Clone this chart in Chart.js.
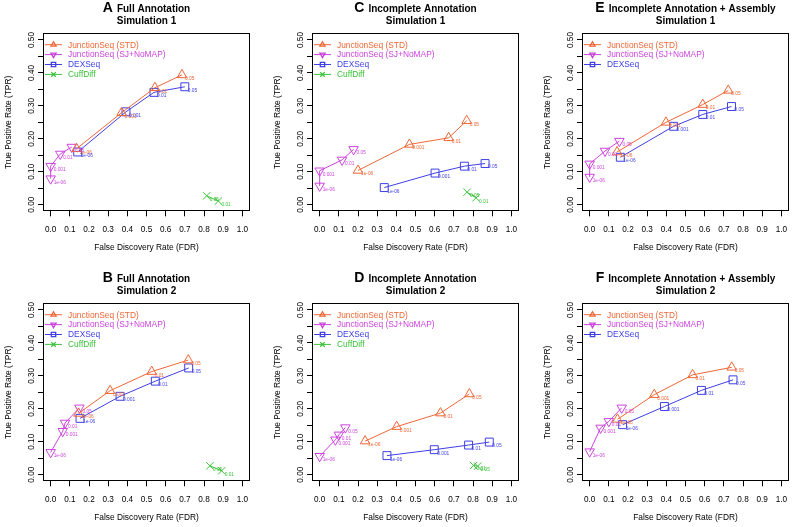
<!DOCTYPE html>
<html><head><meta charset="utf-8">
<script src="https://cdn.jsdelivr.net/npm/chart.js@4/dist/chart.umd.min.js"></script>
<style>
html,body{margin:0;padding:0;background:#fff;overflow:hidden;width:796px;height:527px}
canvas{position:absolute}
</style></head><body>
<canvas id="cA" width="257" height="257" style="left:0px;top:0px"></canvas>
<canvas id="cC" width="257" height="257" style="left:269px;top:0px"></canvas>
<canvas id="cE" width="257" height="257" style="left:539px;top:0px"></canvas>
<canvas id="cB" width="257" height="257" style="left:0px;top:270px"></canvas>
<canvas id="cD" width="257" height="257" style="left:269px;top:270px"></canvas>
<canvas id="cF" width="257" height="257" style="left:539px;top:270px"></canvas>
<script>
// ---- axis ticks / labels ----
const xTicks = [0, 0.1, 0.2, 0.3, 0.4, 0.5, 0.6, 0.7, 0.8, 0.9, 1.0];
const xTickLabels = ['0.0','0.1','0.2','0.3','0.4','0.5','0.6','0.7','0.8','0.9','1.0'];
const yTicks = [0, 0.05, 0.1, 0.15, 0.2, 0.25, 0.3, 0.35, 0.4, 0.45, 0.5];
const yTickLabels = ['0.00','','0.10','','0.20','','0.30','','0.40','','0.50'];
const xTitle = 'False Discovery Rate (FDR)';
const yTitle = 'True Positive Rate (TPR)';

// ---- series names / point labels ----
const seriesNames = ['JunctionSeq (STD)', 'JunctionSeq (SJ+NoMAP)', 'DEXSeq', 'CuffDiff'];
const thresholdLabels = ['1e-06', '0.001', '0.01', '0.05'];

// ---- panel titles ----
const panelLetters = ['A', 'B', 'C', 'D', 'E', 'F'];
const panelTitles = ['Full Annotation', 'Full Annotation', 'Incomplete Annotation', 'Incomplete Annotation',
                     'Incomplete Annotation + Assembly', 'Incomplete Annotation + Assembly'];
const panelSubtitles = ['Simulation 1', 'Simulation 2', 'Simulation 1', 'Simulation 2', 'Simulation 1', 'Simulation 2'];

// ---- Panel A ----
const A_STD_FDR = [0.135, 0.370, 0.544, 0.685];
const A_STD_TPR = [0.170, 0.279, 0.355, 0.394];
const A_SJ_FDR  = [0.000, 0.000, 0.050, 0.110];
const A_SJ_TPR  = [0.079, 0.117, 0.154, 0.175];
const A_DEX_FDR = [0.141, 0.393, 0.539, 0.700];
const A_DEX_TPR = [0.160, 0.282, 0.341, 0.358];
const A_CUFF_FDR = [0.814, 0.875];
const A_CUFF_TPR = [0.027, 0.011];
const A_CUFF_LAB = ['0.05', '0.01'];
// ---- Panel B ----
const B_STD_FDR = [0.145, 0.310, 0.527, 0.718];
const B_STD_TPR = [0.186, 0.255, 0.313, 0.348];
const B_SJ_FDR  = [0.000, 0.063, 0.075, 0.150];
const B_SJ_TPR  = [0.068, 0.132, 0.157, 0.203];
const B_DEX_FDR = [0.153, 0.362, 0.546, 0.720];
const B_DEX_TPR = [0.171, 0.238, 0.284, 0.324];
const B_CUFF_FDR = [0.831, 0.892];
const B_CUFF_TPR = [0.027, 0.012];
const B_CUFF_LAB = ['0.05', '0.01'];
// ---- Panel C ----
const C_STD_FDR = [0.200, 0.468, 0.673, 0.767];
const C_STD_TPR = [0.104, 0.183, 0.203, 0.255];
const C_SJ_FDR  = [0.000, 0.000, 0.117, 0.177];
const C_SJ_TPR  = [0.057, 0.103, 0.136, 0.168];
const C_DEX_FDR = [0.337, 0.602, 0.755, 0.863];
const C_DEX_TPR = [0.052, 0.096, 0.117, 0.125];
const C_CUFF_FDR = [0.769, 0.816];
const C_CUFF_TPR = [0.038, 0.021];
const C_CUFF_LAB = ['0.05', '0.01'];
// ---- Panel D ----
const D_STD_FDR = [0.237, 0.402, 0.630, 0.781];
const D_STD_TPR = [0.102, 0.146, 0.187, 0.245];
const D_SJ_FDR  = [0.000, 0.082, 0.100, 0.134];
const D_SJ_TPR  = [0.056, 0.106, 0.121, 0.143];
const D_DEX_FDR = [0.351, 0.598, 0.777, 0.885];
const D_DEX_TPR = [0.058, 0.076, 0.090, 0.099];
const D_CUFF_FDR = [0.803, 0.824];
const D_CUFF_TPR = [0.028, 0.026];
const D_CUFF_LAB = ['0.01', '0.05'];
// ---- Panel E ----
const E_STD_FDR = [0.143, 0.398, 0.590, 0.723];
const E_STD_TPR = [0.160, 0.250, 0.304, 0.347];
const E_SJ_FDR  = [0.000, 0.000, 0.080, 0.155];
const E_SJ_TPR  = [0.084, 0.124, 0.163, 0.193];
const E_DEX_FDR = [0.160, 0.438, 0.590, 0.740];
const E_DEX_TPR = [0.144, 0.238, 0.274, 0.298];
// ---- Panel F ----
const F_STD_FDR = [0.145, 0.337, 0.537, 0.741];
const F_STD_TPR = [0.168, 0.243, 0.303, 0.326];
const F_SJ_FDR  = [0.000, 0.057, 0.100, 0.167];
const F_SJ_TPR  = [0.070, 0.142, 0.162, 0.203];
const F_DEX_FDR = [0.172, 0.390, 0.583, 0.748];
const F_DEX_TPR = [0.152, 0.207, 0.256, 0.288];

// ---- styling ----
const COL_STD = '#EE6636';
const COL_SJ = '#CC44DD';
const COL_DEX = '#3F3FE6';
const COL_CUFF = '#3CC23C';
const FONT = '"Liberation Sans", Arial, Helvetica, sans-serif';

function mk(name, fdr, tpr, labels, color, style, rot, r) {
  return {
    label: name,
    data: fdr.map((x, i) => ({x: x, y: tpr[i]})),
    ptLabels: labels,
    showLine: true,
    borderColor: color,
    backgroundColor: 'rgba(0,0,0,0)',
    borderWidth: 1,
    tension: 0,
    fill: false,
    pointStyle: style,
    pointRotation: rot,
    pointRadius: r,
    pointBorderWidth: 1,
    pointBorderColor: color,
    pointBackgroundColor: 'rgba(0,0,0,0)',
    mkStyle: style, mkRot: rot
  };
}

function drawLegendMarker(ctx, style, rot, x, y, color) {
  ctx.save();
  ctx.strokeStyle = color; ctx.lineWidth = 1.3;
  ctx.beginPath();
  const r = 3;
  if (style === 'triangle') {
    const s = rot ? -1 : 1;
    ctx.moveTo(x, y - s * r);
    ctx.lineTo(x + r * 0.866, y + s * r * 0.5);
    ctx.lineTo(x - r * 0.866, y + s * r * 0.5);
    ctx.closePath();
  } else if (style === 'rect') {
    ctx.rect(x - 2.2, y - 2.2, 4.4, 4.4);
  } else {
    ctx.moveTo(x - 2.3, y - 2.3); ctx.lineTo(x + 2.3, y + 2.3);
    ctx.moveTo(x + 2.3, y - 2.3); ctx.lineTo(x - 2.3, y + 2.3);
  }
  ctx.stroke();
  ctx.restore();
}

function decoPlugin(idx) {
  return {
    id: 'rdeco',
    afterDatasetsDraw(chart) {
      const ctx = chart.ctx;
      ctx.save();
      ctx.font = '4.8px ' + FONT;
      ctx.textAlign = 'left';
      ctx.textBaseline = 'middle';
      chart.data.datasets.forEach((ds, di) => {
        const meta = chart.getDatasetMeta(di);
        ctx.fillStyle = ds.borderColor;
        meta.data.forEach((el, i) => {
          ctx.fillText(ds.ptLabels[i], el.x + 3, el.y + 3.6);
        });
      });
      ctx.restore();
    },
    afterDraw(chart) {
      const ctx = chart.ctx, a = chart.chartArea, xs = chart.scales.x, ys = chart.scales.y;
      ctx.save();
      // plot box
      ctx.strokeStyle = '#000'; ctx.lineWidth = 1;
      const L = Math.round(a.left) + 0.5, T = Math.round(a.top) + 0.5;
      const R = Math.round(a.right) - 0.5, B = Math.round(a.bottom) - 0.5;
      ctx.strokeRect(L, T, R - L, B - T);
      // x tick labels
      ctx.fillStyle = '#000';
      ctx.font = '8.2px ' + FONT;
      ctx.textAlign = 'center'; ctx.textBaseline = 'middle';
      xTicks.forEach((v, i) => ctx.fillText(xTickLabels[i], xs.getPixelForValue(v), a.bottom + 18.2));
      // y tick labels (rotated)
      yTicks.forEach((v, i) => {
        if (!yTickLabels[i]) return;
        ctx.save();
        ctx.translate(a.left - 11.3, ys.getPixelForValue(v));
        ctx.rotate(-Math.PI / 2);
        ctx.fillText(yTickLabels[i], 0, 0);
        ctx.restore();
      });
      // axis titles
      ctx.font = '8.4px ' + FONT;
      ctx.fillText(xTitle, (a.left + a.right) / 2, a.bottom + 36.2);
      ctx.save();
      ctx.translate(8.5, (a.top + a.bottom) / 2);
      ctx.rotate(-Math.PI / 2);
      ctx.fillText(yTitle, 0, 0);
      ctx.restore();
      // title
      const cx = (a.left + a.right) / 2;
      ctx.textBaseline = 'alphabetic';
      ctx.font = 'bold 14px ' + FONT;
      const wL = ctx.measureText(panelLetters[idx]).width;
      ctx.font = 'bold 10px ' + FONT;
      const wT = ctx.measureText(panelTitles[idx]).width;
      const gap = 4;
      const x0 = cx - (wL + gap + wT) / 2;
      ctx.textAlign = 'left';
      ctx.font = 'bold 14px ' + FONT;
      ctx.fillText(panelLetters[idx], x0, 12);
      ctx.font = 'bold 10px ' + FONT;
      ctx.fillText(panelTitles[idx], x0 + wL + gap, 12);
      ctx.textAlign = 'center';
      ctx.fillText(panelSubtitles[idx], cx, 24.2);
      // legend
      ctx.font = '8.4px ' + FONT;
      ctx.textAlign = 'left'; ctx.textBaseline = 'middle';
      chart.data.datasets.forEach((ds, i) => {
        const y = a.top + 11.3 + 9.9 * i;
        ctx.strokeStyle = ds.borderColor; ctx.lineWidth = 1;
        ctx.beginPath();
        ctx.moveTo(a.left + 2, y); ctx.lineTo(a.left + 19, y);
        ctx.stroke();
        drawLegendMarker(ctx, ds.mkStyle, ds.mkRot, a.left + 10.5, y, ds.borderColor);
        ctx.fillStyle = ds.borderColor;
        ctx.fillText(ds.label, a.left + 25, y + 0.5);
      });
      ctx.restore();
    }
  };
}

function makeChart(id, idx, datasets) {
  new Chart(document.getElementById(id), {
    type: 'scatter',
    data: {datasets: datasets},
    options: {
      responsive: false,
      maintainAspectRatio: false,
      animation: false,
      devicePixelRatio: 1,
      events: [],
      layout: {padding: {top: 33.4, right: 7, left: 0, bottom: 0}},
      plugins: {legend: {display: false}, tooltip: {enabled: false}, title: {display: false}},
      scales: {
        x: {
          type: 'linear', position: 'bottom', min: -0.04, max: 1.04,
          afterBuildTicks: s => { s.ticks = xTicks.map(v => ({value: v})); },
          afterFit: s => { s.height = 45.7; },
          ticks: {display: false},
          grid: {drawOnChartArea: false, drawTicks: true, tickLength: 5, color: '#000', lineWidth: 1},
          border: {display: false}
        },
        y: {
          type: 'linear', position: 'left', min: -0.02, max: 0.52,
          afterBuildTicks: s => { s.ticks = yTicks.map(v => ({value: v})); },
          afterFit: s => { s.width = 43; },
          ticks: {display: false},
          grid: {drawOnChartArea: false, drawTicks: true, tickLength: 5, color: '#000', lineWidth: 1},
          border: {display: false}
        }
      }
    },
    plugins: [decoPlugin(idx)]
  });
}

const TRI = 5.5, SQ = 5.6, XR = 5.2;

makeChart('cA', 0, [
  mk(seriesNames[0], A_STD_FDR, A_STD_TPR, thresholdLabels, COL_STD, 'triangle', 0, TRI),
  mk(seriesNames[1], A_SJ_FDR, A_SJ_TPR, thresholdLabels, COL_SJ, 'triangle', 180, TRI),
  mk(seriesNames[2], A_DEX_FDR, A_DEX_TPR, thresholdLabels, COL_DEX, 'rect', 0, SQ),
  mk(seriesNames[3], A_CUFF_FDR, A_CUFF_TPR, A_CUFF_LAB, COL_CUFF, 'crossRot', 0, XR)
]);
makeChart('cB', 1, [
  mk(seriesNames[0], B_STD_FDR, B_STD_TPR, thresholdLabels, COL_STD, 'triangle', 0, TRI),
  mk(seriesNames[1], B_SJ_FDR, B_SJ_TPR, thresholdLabels, COL_SJ, 'triangle', 180, TRI),
  mk(seriesNames[2], B_DEX_FDR, B_DEX_TPR, thresholdLabels, COL_DEX, 'rect', 0, SQ),
  mk(seriesNames[3], B_CUFF_FDR, B_CUFF_TPR, B_CUFF_LAB, COL_CUFF, 'crossRot', 0, XR)
]);
makeChart('cC', 2, [
  mk(seriesNames[0], C_STD_FDR, C_STD_TPR, thresholdLabels, COL_STD, 'triangle', 0, TRI),
  mk(seriesNames[1], C_SJ_FDR, C_SJ_TPR, thresholdLabels, COL_SJ, 'triangle', 180, TRI),
  mk(seriesNames[2], C_DEX_FDR, C_DEX_TPR, thresholdLabels, COL_DEX, 'rect', 0, SQ),
  mk(seriesNames[3], C_CUFF_FDR, C_CUFF_TPR, C_CUFF_LAB, COL_CUFF, 'crossRot', 0, XR)
]);
makeChart('cD', 3, [
  mk(seriesNames[0], D_STD_FDR, D_STD_TPR, thresholdLabels, COL_STD, 'triangle', 0, TRI),
  mk(seriesNames[1], D_SJ_FDR, D_SJ_TPR, thresholdLabels, COL_SJ, 'triangle', 180, TRI),
  mk(seriesNames[2], D_DEX_FDR, D_DEX_TPR, thresholdLabels, COL_DEX, 'rect', 0, SQ),
  mk(seriesNames[3], D_CUFF_FDR, D_CUFF_TPR, D_CUFF_LAB, COL_CUFF, 'crossRot', 0, XR)
]);
makeChart('cE', 4, [
  mk(seriesNames[0], E_STD_FDR, E_STD_TPR, thresholdLabels, COL_STD, 'triangle', 0, TRI),
  mk(seriesNames[1], E_SJ_FDR, E_SJ_TPR, thresholdLabels, COL_SJ, 'triangle', 180, TRI),
  mk(seriesNames[2], E_DEX_FDR, E_DEX_TPR, thresholdLabels, COL_DEX, 'rect', 0, SQ)
]);
makeChart('cF', 5, [
  mk(seriesNames[0], F_STD_FDR, F_STD_TPR, thresholdLabels, COL_STD, 'triangle', 0, TRI),
  mk(seriesNames[1], F_SJ_FDR, F_SJ_TPR, thresholdLabels, COL_SJ, 'triangle', 180, TRI),
  mk(seriesNames[2], F_DEX_FDR, F_DEX_TPR, thresholdLabels, COL_DEX, 'rect', 0, SQ)
]);
</script>
</body></html>
